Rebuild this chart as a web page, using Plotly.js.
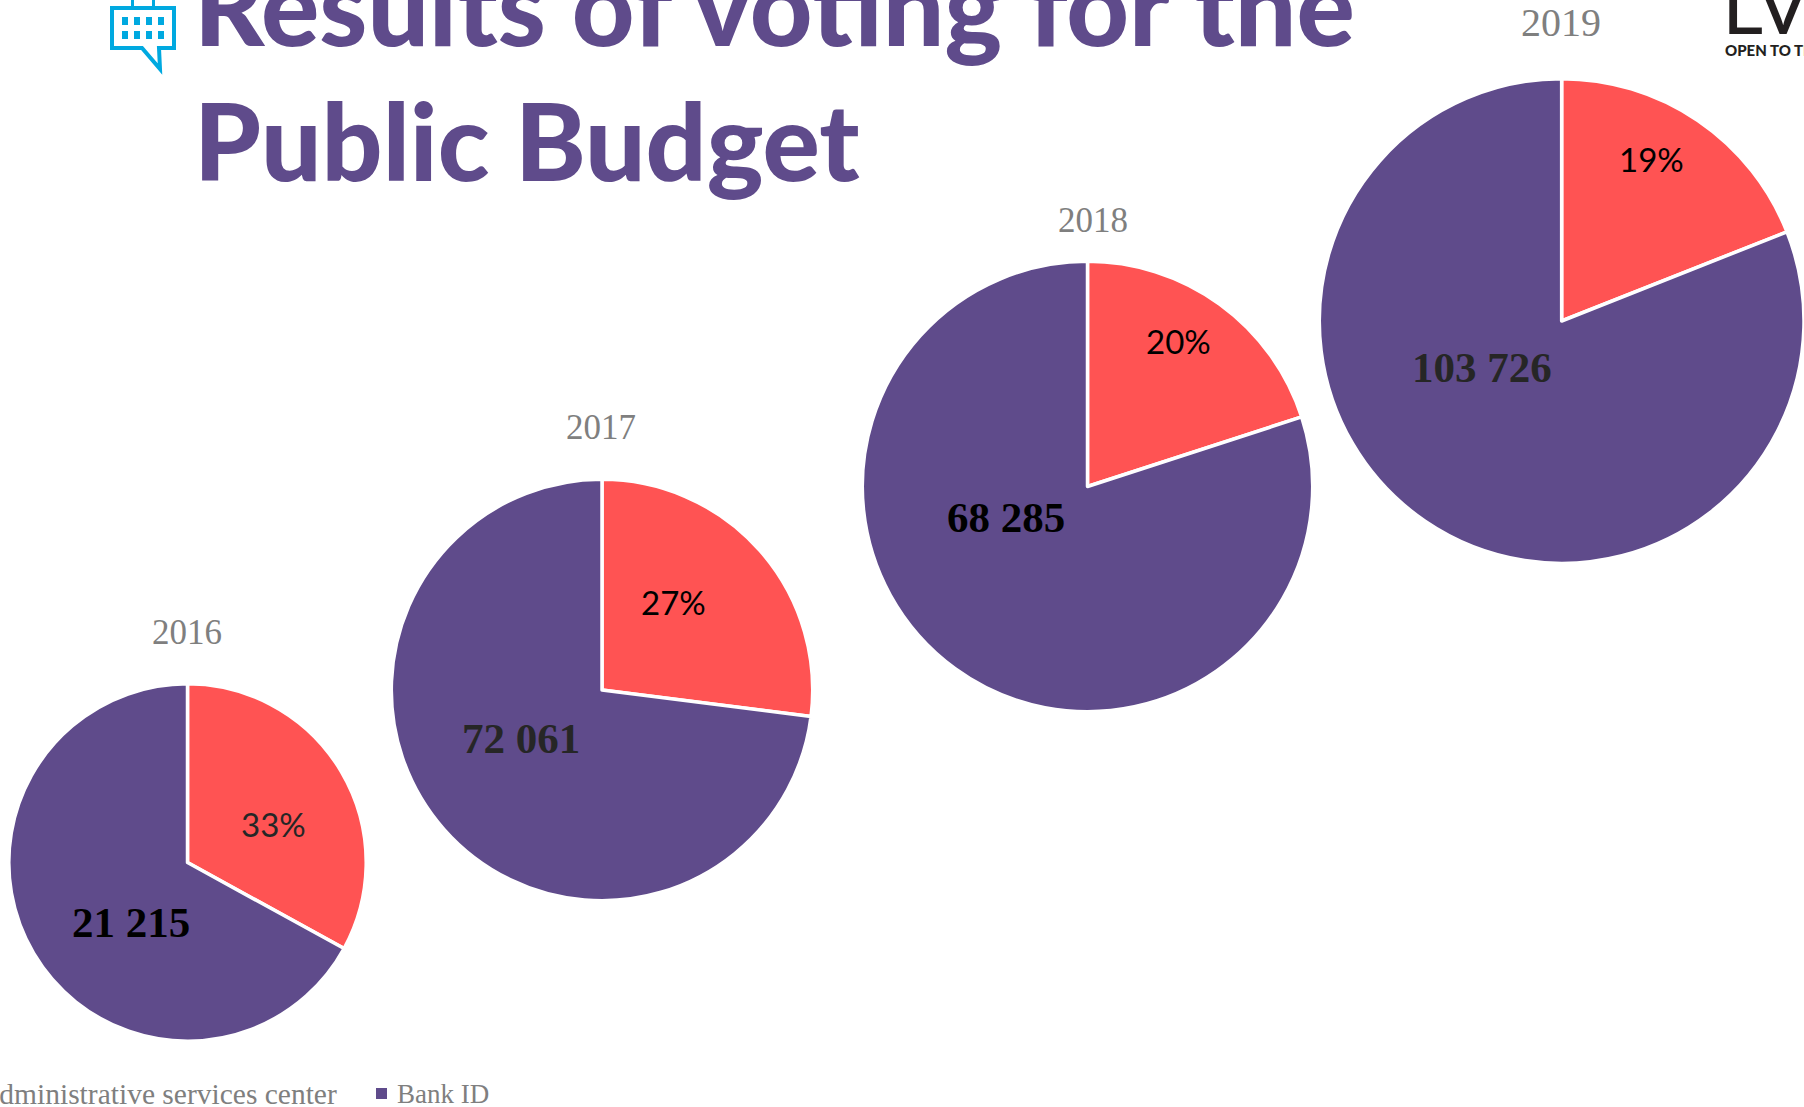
<!DOCTYPE html>
<html><head><meta charset="utf-8">
<script src="https://cdn.plot.ly/plotly-3.0.1.min.js"></script>
<style>html,body{margin:0;padding:0;background:#fff;overflow:hidden}#c{width:1804px;height:1107px}</style>
</head><body><div id="c"></div>
<script>
var W = 1804, H = 1107;
var years = ['2016', '2017', '2018', '2019'];
var seriesNames = ['Administrative services center', 'Bank ID'];
var adminVotes = [10449, 26653, 17071, 24331];
var bankIdVotes = [21215, 72061, 68285, 103726];
var shareLabels = ['33%', '27%', '20%', '19%'];
var bankLabels = ['21 215', '72 061', '68 285', '103 726'];

var RED = '#FF5353', PURPLE = '#5F4B8B', GREY = '#7F7F7F', BLUE = '#00A9E0';
var SERIF = '"Liberation Serif", serif', SANS = 'Lato, sans-serif';

var centers = [[187.5, 862.5], [602, 690], [1087.5, 486.5], [1562, 321]];
var radii = [178.7, 210.7, 225.2, 242.7];
var sharePos = [[273, 824], [673, 602], [1178, 341], [1651, 159]];
var bankPos = [[131, 922], [521, 738], [1006, 517], [1482, 367]];
var yearPos = [[187, 632], [601, 428], [1093, 220], [1561, 23]];
var yearSizes = [35, 35, 35, 40];
var shareColors = ['#262626', '#000000', '#000000', '#000000'];
var bankColors = ['#000000', '#262626', '#000000', '#262626'];

function fx(x) { return x / W; }
function fy(y) { return 1 - y / H; }
function note(text, x, y, size, color, family, anchor, weight) {
  return { text: text, x: fx(x), y: fy(y), xref: 'paper', yref: 'paper',
    xanchor: anchor || 'center', yanchor: 'middle', showarrow: false,
    font: { size: size, color: color, family: family, weight: weight || 400 } };
}
function path(points, close) {
  return points.map(function (p, i) { return (i ? 'L' : 'M') + fx(p[0]) + ',' + fy(p[1]); }).join(' ') + (close ? ' Z' : '');
}

var traces = years.map(function (y, i) {
  var c = centers[i], r = radii[i];
  return {
    type: 'pie', name: y, labels: seriesNames, values: [adminVotes[i], bankIdVotes[i]],
    sort: false, direction: 'clockwise', rotation: 0, textinfo: 'none', hoverinfo: 'label+value+percent',
    automargin: false, showlegend: false,
    marker: { colors: [RED, PURPLE], line: { color: '#FFFFFF', width: 3.5 } },
    domain: { x: [fx(c[0] - r), fx(c[0] + r)], y: [fy(c[1] + r), fy(c[1] - r)] }
  };
});

var annotations = [
  note('Results of voting for the', 192, 4, 108.8, PURPLE, SANS, 'left', 900),
  note('Public Budget', 192, 139, 107, PURPLE, SANS, 'left', 900),
  note('LV', 1720, 3, 80, '#231F20', SANS, 'left', 400),
  note('OPEN TO TI', 1723, 50, 15, '#231F20', SANS, 'left', 900),
  note(seriesNames[0], 339, 1094, 29.5, GREY, SERIF, 'right', 400),
  note(seriesNames[1], 395, 1094, 27, GREY, SERIF, 'left', 400)
];
years.forEach(function (y, i) {
  annotations.push(note(y, yearPos[i][0], yearPos[i][1], yearSizes[i], GREY, SERIF));
  annotations.push(note(shareLabels[i], sharePos[i][0], sharePos[i][1], 33, shareColors[i], SANS));
  annotations.push(note(bankLabels[i], bankPos[i][0], bankPos[i][1], 43, bankColors[i], SERIF, 'center', 700));
});

var iconLine = { color: BLUE, width: 4 };
var shapes = [
  { type: 'path', xref: 'paper', yref: 'paper', line: iconLine, fillcolor: '#FFFFFF',
    path: path([[112, 8], [174, 8], [174, 48], [159, 48], [160, 69], [142, 48], [112, 48]], true) },
  { type: 'rect', xref: 'paper', yref: 'paper', x0: fx(131), x1: fx(134), y0: fy(0), y1: fy(7), line: { width: 0 }, fillcolor: BLUE },
  { type: 'rect', xref: 'paper', yref: 'paper', x0: fx(152), x1: fx(155), y0: fy(0), y1: fy(7), line: { width: 0 }, fillcolor: BLUE },
  { type: 'rect', xref: 'paper', yref: 'paper', x0: fx(376), x1: fx(387), y0: fy(1088), y1: fy(1099), line: { width: 0 }, fillcolor: PURPLE }
];
[122, 134, 146, 158].forEach(function (x) {
  [17, 31].forEach(function (y) {
    shapes.push({ type: 'rect', xref: 'paper', yref: 'paper', x0: fx(x), x1: fx(x + 6), y0: fy(y), y1: fy(y + 8), line: { width: 0 }, fillcolor: BLUE });
  });
});

Plotly.newPlot('c', traces, {
  width: W, height: H, margin: { l: 0, r: 0, t: 0, b: 0 },
  paper_bgcolor: '#FFFFFF', showlegend: false,
  annotations: annotations, shapes: shapes
}, { displayModeBar: false, responsive: false });
</script>
</body></html>
